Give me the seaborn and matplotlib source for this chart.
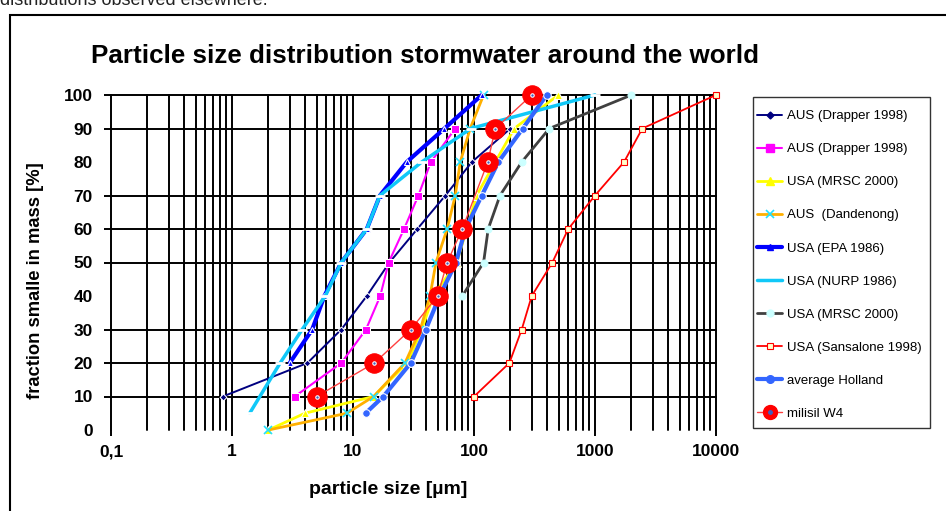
import matplotlib
matplotlib.use("Agg")
import matplotlib.pyplot as plt
import seaborn as sns
import numpy as np
from matplotlib.lines import Line2D
from matplotlib.patches import Rectangle
from matplotlib.legend_handler import HandlerTuple
from matplotlib.ticker import FixedLocator, NullFormatter

# ---------------- data ----------------
aus_drapper1_x = [0.84, 4.2, 8, 13, 20, 34, 58, 96, 200]
aus_drapper1_y = [10, 20, 30, 40, 50, 60, 70, 80, 90]

aus_drapper2_x = [3.3, 8, 12.8, 16.8, 19.7, 26.4, 34.7, 44, 70]
aus_drapper2_y = [10, 20, 30, 40, 50, 60, 70, 80, 90]

usa_mrsc_a_x = [2, 4, 14.8, 28, 37, 46, 72, 87, 105, 150, 215, 497]
usa_mrsc_a_y = [0, 5, 10, 20, 30, 40, 50, 60, 70, 80, 90, 100]

aus_dandenong_x = [2, 8.9, 14.8, 26.9, 36, 43.3, 48.5, 60, 70, 77, 93, 120]
aus_dandenong_y = [0, 5, 10, 20, 30, 40, 50, 60, 70, 80, 90, 100]

usa_epa_x = [3, 4.6, 5.8, 8, 13, 16.7, 27.8, 57, 116]
usa_epa_y = [20, 30, 40, 50, 60, 70, 80, 90, 100]

usa_nurp_x = [1.4, 2.5, 3.8, 5.9, 8, 13, 16.7, 37, 94, 1000]
usa_nurp_y = [5, 20, 30, 40, 50, 60, 70, 80, 90, 100]

usa_mrsc_b_x = [80, 120, 131, 164, 248, 419, 2000]
usa_mrsc_b_y = [40, 50, 60, 70, 80, 90, 100]

usa_sansalone_x = [100, 196, 248, 300, 444, 601, 1000, 1738, 2460, 10000]
usa_sansalone_y = [10, 20, 30, 40, 50, 60, 70, 80, 90, 100]

holland_x = [12.7, 17.8, 30, 40, 52, 71, 85, 116, 159, 253, 399]
holland_y = [5, 10, 20, 30, 40, 50, 60, 70, 80, 90, 100]

milisil_x = [5, 15, 30, 50, 60, 80, 130, 150, 300]
milisil_y = [10, 20, 30, 40, 50, 60, 80, 90, 100]

labels = ["AUS (Drapper 1998)", "AUS (Drapper 1998)", "USA (MRSC 2000)",
          "AUS  (Dandenong)", "USA (EPA 1986)", "USA (NURP 1986)",
          "USA (MRSC 2000)", "USA (Sansalone 1998)", "average Holland", "milisil W4"]

x_tick_vals = [0.1, 1, 10, 100, 1000, 10000]
x_tick_labels = ["0,1", "1", "10", "100", "1000", "10000"]
y_tick_vals = [0, 10, 20, 30, 40, 50, 60, 70, 80, 90, 100]
y_grid_vals = [10, 20, 30, 50, 60, 70, 90, 100]

# ---------------- style ----------------
sns.set_style("white")
plt.rcParams['font.family'] = ['Liberation Sans', 'DejaVu Sans']
plt.rcParams['text.color'] = 'black'
plt.rcParams['xtick.color'] = 'black'
plt.rcParams['ytick.color'] = 'black'
plt.rcParams['xtick.labelcolor'] = 'black'
plt.rcParams['ytick.labelcolor'] = 'black'

fig = plt.figure(figsize=(9.46, 5.11), dpi=100)
W, H = 946, 511
ax = fig.add_axes([111 / W, 1 - 430 / H, (716 - 111) / W, (430 - 95) / H])
ax.set_xscale('log')
ax.set_xlim(0.1, 10000)
ax.set_ylim(0, 100)

# grid
for s in ax.spines.values():
    s.set_visible(False)
for dec in [0.1, 1, 10, 100, 1000]:
    for m in range(1, 10):
        ax.axvline(dec * m, color='black', lw=1.4, zorder=0.5, clip_on=False)
ax.axvline(10000, color='black', lw=1.4, zorder=0.5, clip_on=False)
for yv in y_grid_vals:
    ax.axhline(yv, color='black', lw=1.4, zorder=0.5, clip_on=False)

styles = [
    dict(color='#000080', marker='D', ms=3.5, lw=1.4),
    dict(color='#FF00FF', marker='s', ms=6, lw=1.5),
    dict(color='#FFFF00', marker='^', ms=6, lw=2.0),
    dict(color='#FFB000', marker='x', ms=6, lw=2.0, mec='#22E0FF', mew=1.2),
    dict(color='#0000FF', marker='^', ms=4, lw=3.0),
    dict(color='#10C8F8', marker='_', ms=7, lw=2.5, mew=2),
    dict(color='#404040', marker='o', ms=5, lw=2.0, mfc='#CCFFFF', mec='#CCFFFF'),
    dict(color='#FF0000', marker='s', ms=4, lw=1.3, mfc='#FFFFCC', mec='#FF0000', mew=0.8),
    dict(color='#3366FF', marker='o', ms=5.5, lw=3.0),
    dict(color='#FF4040', marker='o', ms=14, lw=1.0, mfc='#FF0000', mec='#FF0000'),
]
series = [
    (aus_drapper1_x, aus_drapper1_y), (aus_drapper2_x, aus_drapper2_y),
    (usa_mrsc_a_x, usa_mrsc_a_y), (aus_dandenong_x, aus_dandenong_y),
    (usa_epa_x, usa_epa_y), (usa_nurp_x, usa_nurp_y),
    (usa_mrsc_b_x, usa_mrsc_b_y), (usa_sansalone_x, usa_sansalone_y),
    (holland_x, holland_y), (milisil_x, milisil_y),
]
for i, ((xs, ys), st) in enumerate(zip(series, styles)):
    sns.lineplot(x=xs, y=ys, ax=ax, sort=False, estimator=None, legend=False,
                 zorder=2 + i, clip_on=False, **st)
# blue centre dots for milisil
sns.lineplot(x=milisil_x, y=milisil_y, ax=ax, sort=False, estimator=None, legend=False,
             marker='o', ms=2.5, color='#4060C0', lw=0, zorder=20, clip_on=False)

# ticks
ax.xaxis.set_major_locator(FixedLocator(x_tick_vals))
ax.set_xticklabels(x_tick_labels)
ax.xaxis.set_minor_locator(FixedLocator([]))
ax.xaxis.set_minor_formatter(NullFormatter())
ax.set_yticks(y_tick_vals)
ax.set_yticklabels([str(v) for v in y_tick_vals])
ax.tick_params(axis='x', which='major', direction='out', length=4.3, width=1.4,
               color='black', labelcolor='black', pad=6.0, labelsize=12.5, bottom=True)
ax.tick_params(axis='y', which='major', direction='out', length=5, width=1.4,
               color='black', labelcolor='black', pad=8.0, labelsize=12.5, left=True)
for t in ax.get_xticklabels() + ax.get_yticklabels():
    t.set_fontweight('bold')
for v, tl in zip(y_tick_vals, ax.yaxis.get_major_ticks()):
    if v in (0, 40, 80):
        tl.tick1line.set_visible(False)
ax.set_xlabel("")
ax.set_ylabel("")
ax.grid(False)

# texts
fig.text(425 / W, 1 - 56 / H, "Particle size distribution stormwater around the world",
         ha='center', va='center', fontsize=18.7, fontweight='bold', color='black')
fig.text(388 / W, 1 - 489 / H, "particle size [µm]", ha='center', va='center',
         fontsize=14, fontweight='bold', color='black')
fig.text(35 / W, 1 - 281 / H, "fraction smalle in mass [%]", ha='center', va='center',
         rotation=90, fontsize=13.2, fontweight='bold', color='black')
fig.text(0.0, 1 - 5 / H, "distributions observed elsewhere.", ha='left', va='baseline',
         fontsize=13, color='#222222')

# outer border
fig.patches.append(Rectangle((10 / W, -0.05), 1.2, 1 - 15 / H + 0.05, transform=fig.transFigure,
                             fill=False, ec='black', lw=1.5))

# legend frame
fig.patches.append(Rectangle((753 / W, 1 - 428 / H), (930 - 753) / W, (428 - 97) / H,
                             transform=fig.transFigure, fill=False, ec='#333333', lw=1.0))

# legend
handles = []
for i, st in enumerate(styles):
    st2 = dict(st)
    if i == 9:
        st2['ms'] = 10
        h1 = Line2D([], [], **st2)
        h2 = Line2D([], [], marker='o', ms=2.5, color='#4060C0', lw=0)
        handles.append((h1, h2))
    else:
        handles.append(Line2D([], [], **st2))
leg = fig.legend(handles, labels, loc='upper left', bbox_to_anchor=(757 / W, 1 - 110 / H),
                 fontsize=9.5, frameon=False, labelcolor='black',
                 handlelength=1.9, handletextpad=0.4, labelspacing=1.58,
                 borderpad=0, borderaxespad=0,
                 handler_map={tuple: HandlerTuple(ndivide=1, pad=0)})

fig.savefig("out.png", dpi=100)
